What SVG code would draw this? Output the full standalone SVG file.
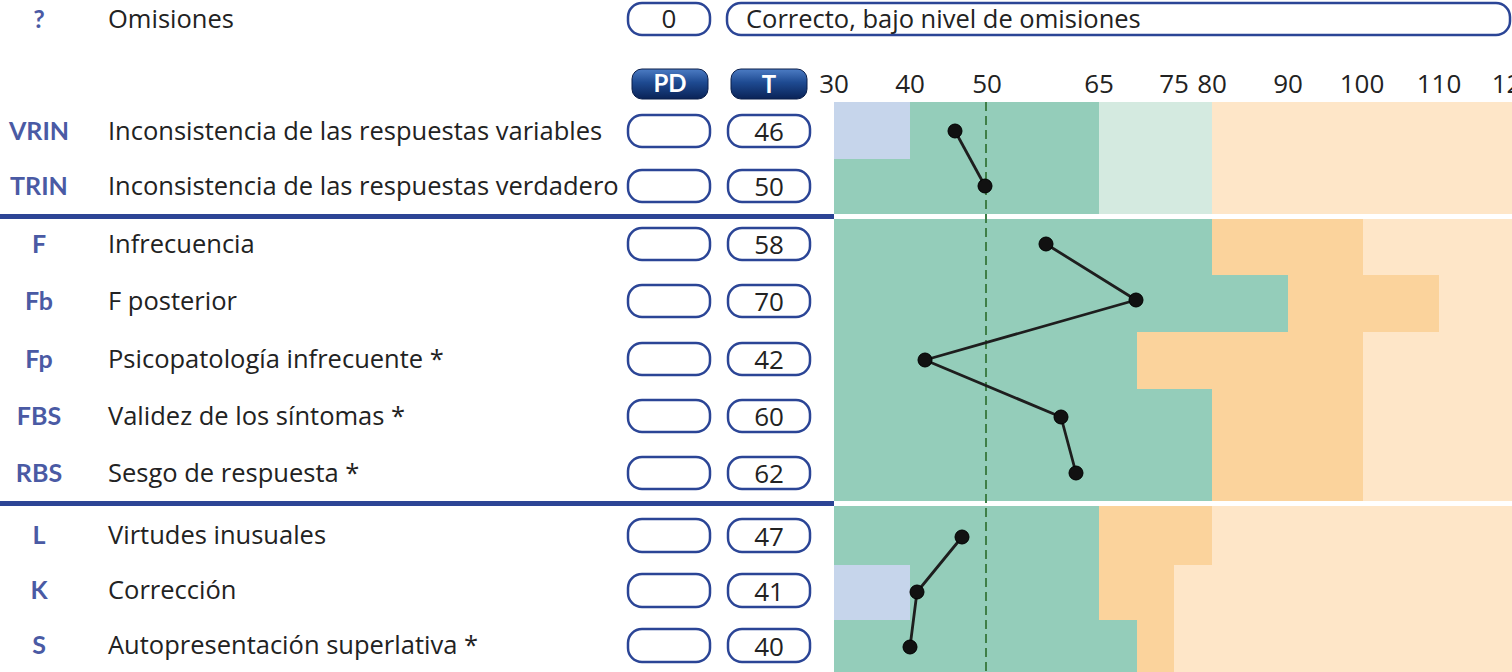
<svg xmlns="http://www.w3.org/2000/svg" width="1512" height="672" viewBox="0 0 1512 672">
<defs>
<linearGradient id="btn" x1="0" y1="0" x2="0" y2="1">
<stop offset="0" stop-color="#4C7CC4"/>
<stop offset="0.45" stop-color="#1E4A91"/>
<stop offset="1" stop-color="#0A2357"/>
</linearGradient>
<style>
.ab{font-family:Lato,"Liberation Sans",sans-serif;font-weight:bold;font-size:25px;fill:#4A5AA4;text-anchor:middle}
.nm{font-family:"Open Sans","Liberation Sans",sans-serif;font-size:25.5px;fill:#222}
.box{fill:#fff;stroke:#2B4596;stroke-width:2.5}
.val{font-family:"Open Sans","Liberation Sans",sans-serif;font-size:26px;fill:#222;text-anchor:middle}
.sc{font-family:"Open Sans","Liberation Sans",sans-serif;font-size:26px;fill:#222;text-anchor:middle}
.hb{font-family:Lato,"Liberation Sans",sans-serif;font-weight:bold;font-size:24px;fill:#fff;text-anchor:middle}
.g{fill:#94CDBA}.b{fill:#C6D5EB}.lg{fill:#D4EAE0}.o{fill:#FBD39C}.lo{fill:#FEE6C8}
.sep{fill:#2D4595}
.ln{fill:none;stroke:#1E1E1E;stroke-width:2.8;stroke-linejoin:round}
.dot{fill:#111;stroke:#000;stroke-width:1}
</style>
</defs>
<rect width="1512" height="672" fill="#fff"/>

<g id="chart-bands">
<rect class="b" x="834" y="102" width="76" height="57"/>
<rect class="g" x="910" y="102" width="189" height="57"/>
<rect class="g" x="834" y="159" width="265" height="55"/>
<rect class="lg" x="1099" y="102" width="113" height="112"/>
<rect class="lo" x="1212" y="102" width="300" height="112"/>

<rect class="g" x="834" y="219" width="378" height="56"/>
<rect class="o" x="1212" y="219" width="151" height="56"/>
<rect class="lo" x="1363" y="219" width="149" height="56"/>
<rect class="g" x="834" y="275" width="454" height="57"/>
<rect class="o" x="1288" y="275" width="151" height="57"/>
<rect class="lo" x="1439" y="275" width="73" height="57"/>
<rect class="g" x="834" y="332" width="303" height="57"/>
<rect class="o" x="1137" y="332" width="226" height="57"/>
<rect class="lo" x="1363" y="332" width="149" height="57"/>
<rect class="g" x="834" y="389" width="378" height="112"/>
<rect class="o" x="1212" y="389" width="151" height="112"/>
<rect class="lo" x="1363" y="389" width="149" height="112"/>

<rect class="g" x="834" y="506" width="265" height="59"/>
<rect class="o" x="1099" y="506" width="113" height="59"/>
<rect class="lo" x="1212" y="506" width="300" height="59"/>
<rect class="b" x="834" y="565" width="76" height="55"/>
<rect class="g" x="910" y="565" width="189" height="55"/>
<rect class="o" x="1099" y="565" width="75" height="55"/>
<rect class="lo" x="1174" y="565" width="338" height="55"/>
<rect class="g" x="834" y="620" width="303" height="52"/>
<rect class="o" x="1137" y="620" width="37" height="52"/>
<rect class="lo" x="1174" y="620" width="338" height="52"/>

<line x1="986" y1="102" x2="986" y2="672" stroke="#3F7F47" stroke-width="2" stroke-dasharray="9 5"/>
<rect class="sep" x="0" y="214" width="834" height="5"/>
<rect class="sep" x="0" y="501" width="834" height="5"/>
</g>

<g id="scale">
<text class="sc" x="834" y="93">30</text>
<text class="sc" x="910" y="93">40</text>
<text class="sc" x="987" y="93">50</text>
<text class="sc" x="1099" y="93">65</text>
<text class="sc" x="1174" y="93">75</text>
<text class="sc" x="1212" y="93">80</text>
<text class="sc" x="1288" y="93">90</text>
<text class="sc" x="1362" y="93">100</text>
<text class="sc" x="1439" y="93">110</text>
<text class="sc" x="1514" y="93">120</text>
</g>

<g id="header">
<rect x="632" y="69" width="76" height="30" rx="10" fill="url(#btn)" stroke="#0A1E4A" stroke-width="1"/>
<text class="hb" x="670" y="92">PD</text>
<rect x="731" y="69" width="76" height="30" rx="10" fill="url(#btn)" stroke="#0A1E4A" stroke-width="1"/>
<text class="hb" x="769" y="93">T</text>
</g>

<g id="row-omisiones">
<text class="ab" x="39" y="28">?</text>
<text class="nm" x="108" y="28">Omisiones</text>
<rect class="box" x="628" y="3" width="82" height="32" rx="14"/>
<text class="val" x="669" y="28">0</text>
<rect class="box" x="727" y="3" width="783" height="32" rx="14"/>
<text class="nm" x="746" y="28">Correcto, bajo nivel de omisiones</text>
</g>

<g id="row-VRIN">
<text class="ab" x="39" y="140">VRIN</text>
<text class="nm" x="108" y="140">Inconsistencia de las respuestas variables</text>
<rect class="box" x="628" y="115" width="82" height="32" rx="14"/>
<rect class="box" x="728" y="115" width="82" height="32" rx="14"/>
<text class="val" x="769" y="141">46</text>
</g>
<g id="row-TRIN">
<text class="ab" x="39" y="195">TRIN</text>
<text class="nm" x="108" y="195">Inconsistencia de las respuestas verdadero</text>
<rect class="box" x="628" y="170" width="82" height="32" rx="14"/>
<rect class="box" x="728" y="170" width="82" height="32" rx="14"/>
<text class="val" x="769" y="196">50</text>
</g>
<g id="row-F">
<text class="ab" x="39" y="253">F</text>
<text class="nm" x="108" y="253">Infrecuencia</text>
<rect class="box" x="628" y="228" width="82" height="32" rx="14"/>
<rect class="box" x="728" y="228" width="82" height="32" rx="14"/>
<text class="val" x="769" y="254">58</text>
</g>
<g id="row-Fb">
<text class="ab" x="39" y="310">Fb</text>
<text class="nm" x="108" y="310">F posterior</text>
<rect class="box" x="628" y="285" width="82" height="32" rx="14"/>
<rect class="box" x="728" y="285" width="82" height="32" rx="14"/>
<text class="val" x="769" y="311">70</text>
</g>
<g id="row-Fp">
<text class="ab" x="39" y="368">Fp</text>
<text class="nm" x="108" y="368">Psicopatología infrecuente *</text>
<rect class="box" x="628" y="343" width="82" height="32" rx="14"/>
<rect class="box" x="728" y="343" width="82" height="32" rx="14"/>
<text class="val" x="769" y="369">42</text>
</g>
<g id="row-FBS">
<text class="ab" x="39" y="425">FBS</text>
<text class="nm" x="108" y="425">Validez de los síntomas *</text>
<rect class="box" x="628" y="400" width="82" height="32" rx="14"/>
<rect class="box" x="728" y="400" width="82" height="32" rx="14"/>
<text class="val" x="769" y="426">60</text>
</g>
<g id="row-RBS">
<text class="ab" x="39" y="482">RBS</text>
<text class="nm" x="108" y="482">Sesgo de respuesta *</text>
<rect class="box" x="628" y="457" width="82" height="32" rx="14"/>
<rect class="box" x="728" y="457" width="82" height="32" rx="14"/>
<text class="val" x="769" y="483">62</text>
</g>
<g id="row-L">
<text class="ab" x="39" y="544">L</text>
<text class="nm" x="108" y="544">Virtudes inusuales</text>
<rect class="box" x="628" y="519" width="82" height="33" rx="14"/>
<rect class="box" x="728" y="519" width="82" height="33" rx="14"/>
<text class="val" x="769" y="546">47</text>
</g>
<g id="row-K">
<text class="ab" x="39" y="599">K</text>
<text class="nm" x="108" y="599">Corrección</text>
<rect class="box" x="628" y="574" width="82" height="33" rx="14"/>
<rect class="box" x="728" y="574" width="82" height="33" rx="14"/>
<text class="val" x="769" y="601">41</text>
</g>
<g id="row-S">
<text class="ab" x="39" y="654">S</text>
<text class="nm" x="108" y="654">Autopresentación superlativa *</text>
<rect class="box" x="628" y="629" width="82" height="33" rx="14"/>
<rect class="box" x="728" y="629" width="82" height="33" rx="14"/>
<text class="val" x="769" y="656">40</text>
</g>

<g id="connectors">
<polyline class="ln" points="955,131 985,186"/>
<polyline class="ln" points="1046,244 1136,300 925,360 1061,417 1076,473"/>
<polyline class="ln" points="962,537 917,592 910,647"/>
</g>
<g id="points">
<circle class="dot" cx="955" cy="131" r="7"/>
<circle class="dot" cx="985" cy="186" r="7"/>
<circle class="dot" cx="1046" cy="244" r="7"/>
<circle class="dot" cx="1136" cy="300" r="7"/>
<circle class="dot" cx="925" cy="360" r="7"/>
<circle class="dot" cx="1061" cy="417" r="7"/>
<circle class="dot" cx="1076" cy="473" r="7"/>
<circle class="dot" cx="962" cy="537" r="7"/>
<circle class="dot" cx="917" cy="592" r="7"/>
<circle class="dot" cx="910" cy="647" r="7"/>
</g>
</svg>
